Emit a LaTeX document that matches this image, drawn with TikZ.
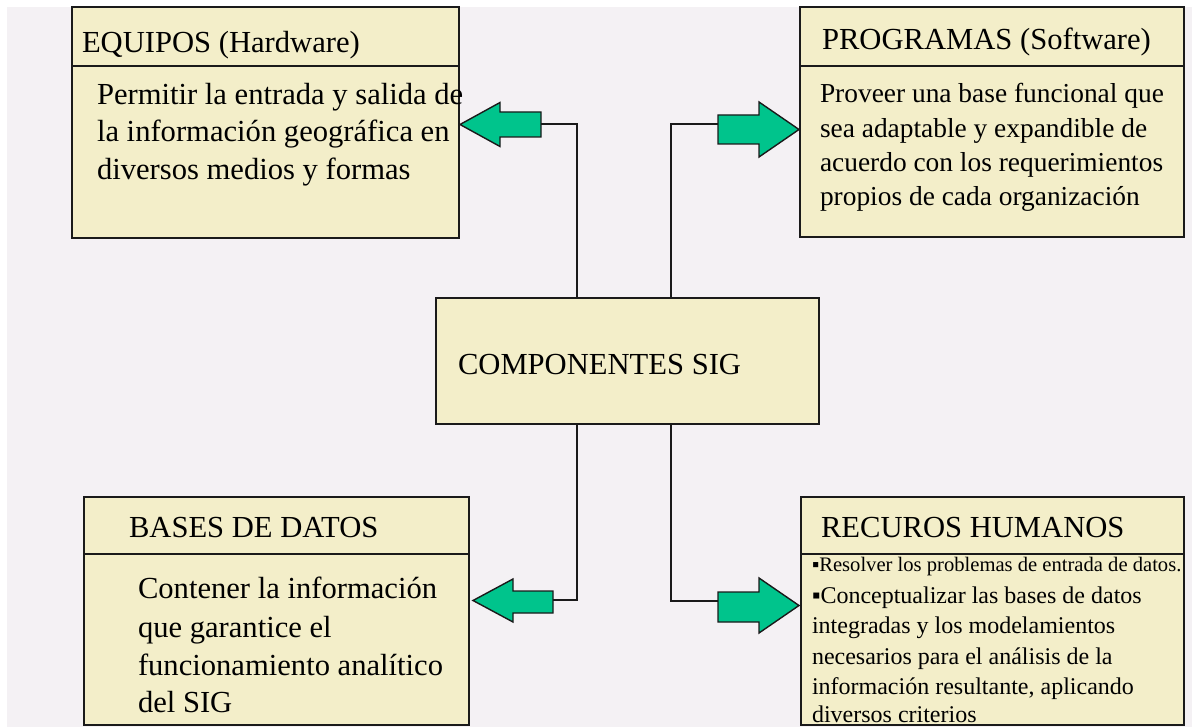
\documentclass[tikz,border=0pt]{standalone}
\usepackage{fontspec}
\setmainfont{Liberation Serif}
\definecolor{bgcol}{HTML}{F4F1F4}
\definecolor{boxfill}{HTML}{F3EEC9}
\definecolor{arrowgreen}{HTML}{00C48C}
\definecolor{linecol}{HTML}{1A1A1A}
\newcommand{\fbig}{\fontsize{30.6}{30.6}\selectfont}
\newcommand{\fprog}{\fontsize{27.4}{27.4}\selectfont}
\newcommand{\frec}{\fontsize{24}{24}\selectfont}
\newcommand{\fsmall}{\fontsize{20.6}{20.6}\selectfont}
\tikzset{
  box/.style={draw=linecol, line width=1.6pt, fill=boxfill, anchor=north west, inner sep=0pt, outer sep=0pt},
  divline/.style={draw=linecol, line width=1.6pt},
  txt/.style={anchor=base west, inner sep=0pt, outer sep=0pt, text=black},
  bigarrow/.style={fill=arrowgreen, draw=linecol, line width=1.4pt, line join=miter},
  conn/.style={draw=linecol, line width=1.5pt}
}
\begin{document}
\begin{tikzpicture}[x=1pt,y=-1pt]
\useasboundingbox (0,0) rectangle (1192,727);
\fill[white] (0,0) rectangle (1192,727);
\fill[bgcol] (7,7) rectangle (1192,727);

% boxes
\node[box, minimum width=387pt, minimum height=231pt] (equipos) at (72,7) {};
\node[box, minimum width=384pt, minimum height=230pt] (programas) at (800,7) {};
\node[box, minimum width=383pt, minimum height=126pt] (comp) at (436,298) {};
\node[box, minimum width=385pt, minimum height=228pt] (bases) at (84,497) {};
\node[box, minimum width=383pt, minimum height=228pt] (recursos) at (801,497) {};

% header dividers
\draw[divline] (equipos.west |- 0,66) -- (equipos.east |- 0,66);
\draw[divline] (programas.west |- 0,66) -- (programas.east |- 0,66);
\draw[divline] (bases.west |- 0,554) -- (bases.east |- 0,554);
\draw[divline] (recursos.west |- 0,554) -- (recursos.east |- 0,554);

% texts
\node[txt, font=\fbig] (eqT) at (82,53) {EQUIPOS (Hardware)};
\node[txt, font=\fbig] (eq1) at (97,105) {Permitir la entrada y salida de};
\node[txt, font=\fbig] (eq2) at (97,142) {la información geográfica en};
\node[txt, font=\fbig] (eq3) at (97,180) {diversos medios y formas};

\node[txt, font=\fbig] (prT) at (822,50) {PROGRAMAS (Software)};
\node[txt, font=\fprog] (pr1) at (820,103) {Proveer una base funcional que};
\node[txt, font=\fprog] (pr2) at (820,138) {sea adaptable y expandible de};
\node[txt, font=\fprog] (pr3) at (820,172) {acuerdo con los requerimientos};
\node[txt, font=\fprog] (pr4) at (820,206) {propios de cada organización};

\node[txt, font=\fbig] (compT) at (458,375) {COMPONENTES SIG};

\node[txt, font=\fbig] (baT) at (129,537) {BASES DE DATOS};
\node[txt, font=\fbig] (ba1) at (138,598) {Contener la información};
\node[txt, font=\fbig] (ba2) at (138,637) {que garantice el};
\node[txt, font=\fbig] (ba3) at (138,675) {funcionamiento analítico};
\node[txt, font=\fbig] (ba4) at (138,712) {del SIG};

\node[txt, font=\fbig] (reT) at (821,537) {RECUROS HUMANOS};
\node[txt, font=\fsmall] (re1) at (812,571) {▪Resolver los problemas de entrada de datos.};
\node[txt, font=\frec] (re2) at (812,603) {▪Conceptualizar las bases de datos};
\node[txt, font=\frec] (re3) at (812,633) {integradas y los modelamientos};
\node[txt, font=\frec] (re4) at (812,664) {necesarios para el análisis de la};
\node[txt, font=\frec] (re5) at (812,694) {información resultante, aplicando};
\node[txt, font=\frec] (re6) at (812,722) {diversos criterios};

% arrows
\draw[bigarrow] (460,124.5) -- (500,102.5) -- (500,112) -- (541,112) -- (541,137) -- (500,137) -- (500,146.5) -- cycle;
\coordinate (ulA) at (541,124);
\draw[bigarrow] (799,129.5) -- (759,102) -- (759,115) -- (718,115) -- (718,144) -- (759,144) -- (759,157) -- cycle;
\coordinate (urA) at (718,124);
\draw[bigarrow] (473,600.5) -- (513,579) -- (513,591) -- (553,591) -- (553,613) -- (513,613) -- (513,622) -- cycle;
\coordinate (llA) at (553,600);
\draw[bigarrow] (799,605.5) -- (759,578) -- (759,592) -- (718,592) -- (718,622) -- (759,622) -- (759,633) -- cycle;
\coordinate (lrA) at (718,601);

% connectors
\draw[conn] ([xshift=141pt]comp.north west) |- (ulA);
\draw[conn] ([xshift=235pt]comp.north west) |- (urA);
\draw[conn] ([xshift=141pt]comp.south west) |- (llA);
\draw[conn] ([xshift=235pt]comp.south west) |- (lrA);
\end{tikzpicture}
\end{document}
